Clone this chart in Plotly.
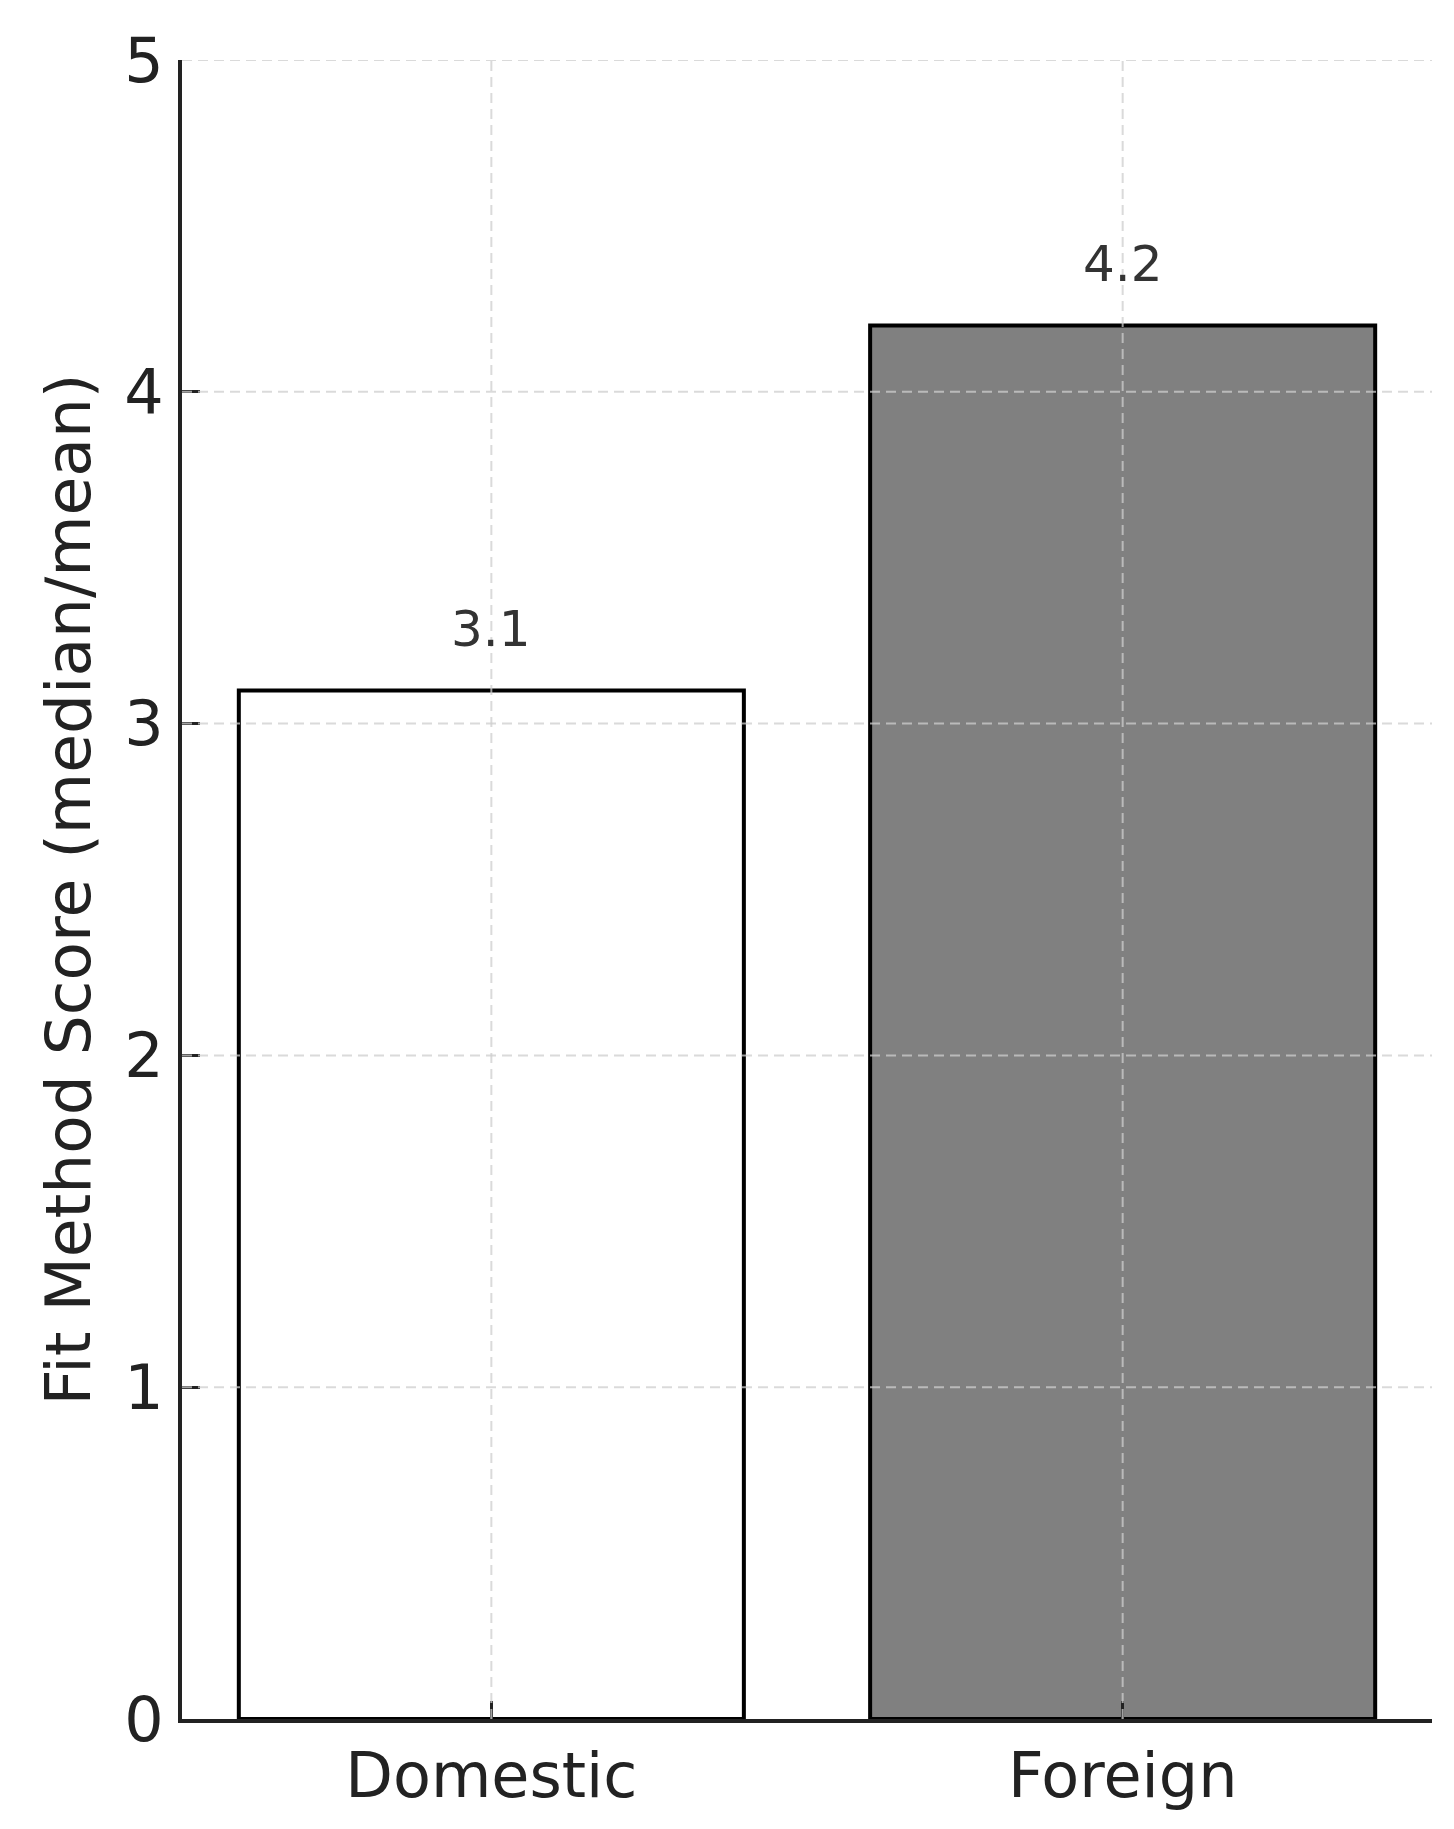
import plotly.graph_objects as go

categories = ["Domestic", "Foreign"]
scores = [3.1, 4.2]
bar_colors = ["#ffffff", "#808080"]
y_ticks = [0, 1, 2, 3, 4, 5]
y_label = "Fit Method Score (median/mean)"

FONT = "DejaVu Sans"

fig = go.Figure()
fig.add_trace(go.Bar(
    x=list(range(len(categories))),
    y=scores,
    width=0.8,
    marker=dict(color=bar_colors, line=dict(color="#000000", width=4)),
    hoverinfo="skip",
))

# grid lines drawn above bars (as in reference)
grid_style = dict(color="rgba(205,205,205,0.75)", width=2, dash="10px,6px")
for t in y_ticks[1:]:
    fig.add_shape(type="line", xref="paper", x0=0, x1=1, yref="y", y0=t, y1=t,
                  line=grid_style, layer="above")
for i in range(len(categories)):
    fig.add_shape(type="line", xref="x", x0=i, x1=i, yref="paper", y0=0, y1=1,
                  line=grid_style, layer="above")

for i, v in enumerate(scores):
    fig.add_annotation(x=i, y=v, text=f"{v:.1f}", showarrow=False,
                       yanchor="bottom", yshift=30,
                       font=dict(family=FONT, size=50, color="#333333"))

fig.update_layout(
    width=1454, height=1829,
    margin=dict(l=174, r=30, t=52, b=118),
    paper_bgcolor="white", plot_bgcolor="white",
    showlegend=False,
    font=dict(family=FONT, color="#222222"),
)
fig.update_xaxes(
    range=[-0.49, 1.49],
    tickmode="array", tickvals=list(range(len(categories))), ticktext=categories,
    tickfont=dict(family=FONT, size=62, color="#222222"),
    showgrid=False, zeroline=False,
    showline=True, linecolor="#222222", linewidth=4,
    ticks="inside", ticklen=18, tickwidth=3, tickcolor="#222222",
    layer="above traces",
)
fig.update_yaxes(
    range=[0, 5],
    tickmode="array", tickvals=y_ticks,
    tickfont=dict(family=FONT, size=62, color="#222222"),
    ticklabelstandoff=2,
    showgrid=False, zeroline=False,
    showline=True, linecolor="#222222", linewidth=4,
    ticks="inside", ticklen=18, tickwidth=3, tickcolor="#222222",
    title=dict(text=y_label, font=dict(family=FONT, size=63, color="#222222"), standoff=14),
    layer="above traces",
)

fig.write_html("out.html")
